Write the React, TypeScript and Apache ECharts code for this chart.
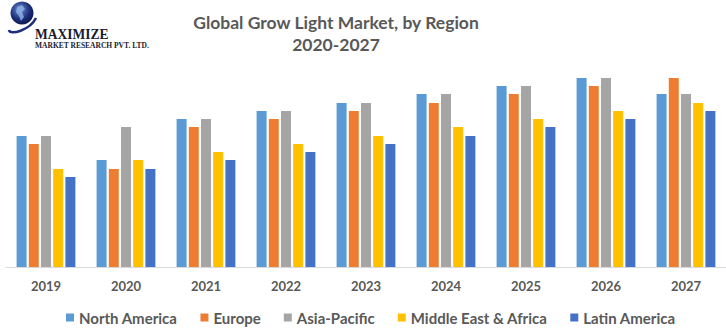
import React, { useEffect, useRef } from "react";
import * as echarts from "echarts";

const years = ["2019", "2020", "2021", "2022", "2023", "2024", "2025", "2026", "2027"];
const northAmerica = [131, 107, 148, 156, 164, 173, 181, 189, 173];
const europe = [123, 98, 140, 148, 156, 164, 173, 181, 189];
const asiaPacific = [131, 140, 148, 156, 164, 173, 181, 189, 173];
const middleEastAfrica = [98, 107, 115, 123, 131, 140, 148, 156, 164];
const latinAmerica = [90, 98, 107, 115, 123, 131, 140, 148, 156];

const seriesNames = ["North America", "Europe", "Asia-Pacific", "Middle East & Africa", "Latin America"];
const seriesData = [northAmerica, europe, asiaPacific, middleEastAfrica, latinAmerica];
const colors = ["#5B9BD5", "#ED7D31", "#A5A5A5", "#FFC000", "#4472C4"];

export default function App() {
  const ref = useRef<HTMLDivElement>(null);
  useEffect(() => {
    if (!ref.current) return;
    document.body.style.margin = "0";
    const chart = echarts.init(ref.current, undefined, { renderer: "svg" });
    const font = "Lato, 'Open Sans', sans-serif";
    chart.setOption({
      animation: false,
      color: colors,
      title: {
        text: "Global Grow Light Market, by Region\n2020-2027",
        left: 331,
        textAlign: "center",
        top: 6.5,
        textStyle: {
          fontFamily: font,
          fontWeight: "bold",
          fontSize: 17.5,
          color: "#595959",
          lineHeight: 22,
        },
      },
      legend: {
        left: 61,
        top: 305,
        itemWidth: 8,
        itemHeight: 8,
        itemGap: 23,
        icon: "rect",
        textStyle: { fontFamily: font, fontWeight: "bold", fontSize: 15, color: "#595959" },
        data: seriesNames,
      },
      grid: { left: 6, right: 0, top: 67, height: 200, containLabel: false },
      xAxis: {
        type: "category",
        data: years,
        axisLine: { show: true, lineStyle: { color: "#D9D9D9", width: 1 } },
        axisTick: { show: false },
        axisLabel: {
          margin: 12,
          fontFamily: font,
          fontWeight: "bold",
          fontSize: 13,
          color: "#595959",
        },
      },
      yAxis: { type: "value", min: 0, max: 200, show: false, splitLine: { show: false } },
      series: seriesNames.map((name, i) => ({
        name,
        type: "bar",
        data: seriesData[i],
        barWidth: 10,
        barGap: "22%",
        itemStyle: { color: colors[i] },
      })),
      graphic: [
        {
          type: "circle",
          shape: { cx: 22, cy: 13, r: 11.5 },
          style: {
            fill: new echarts.graphic.RadialGradient(0.4, 0.35, 0.7, [
              { offset: 0, color: "#6f8fd0" },
              { offset: 0.6, color: "#1d2f7a" },
              { offset: 1, color: "#0b1450" },
            ]),
          },
        },
        {
          type: "polygon",
          shape: { points: [[17, 7], [22, 5], [25, 9], [22, 12], [24, 17], [21, 21], [19, 16], [16, 12]] },
          style: { fill: "#8fb3e8", opacity: 0.8 },
        },
        {
          type: "bezierCurve",
          shape: { x1: 9, y1: 30, x2: 36, y2: 18, cpx1: 10, cpy1: 36, cpx2: 30, cpy2: 30 },
          style: { stroke: "#1d2f7a", lineWidth: 2.5, fill: null },
        },
        {
          type: "text",
          x: 35,
          y: 26,
          scaleX: 0.9,
          style: {
            text: "MAXIMIZE",
            font: "bold 15px 'Liberation Serif', 'DejaVu Serif', serif",
            fill: "#1a1a2e",
          },
        },
        {
          type: "text",
          x: 35,
          y: 41,
          style: {
            text: "MARKET RESEARCH PVT. LTD.",
            font: "bold 7.5px 'Liberation Serif', 'DejaVu Serif', serif",
            fill: "#1a1a2e",
          },
        },
      ],
    });
    return () => chart.dispose();
  }, []);
  return <div ref={ref} style={{ width: 726, height: 328 }} />;
}
